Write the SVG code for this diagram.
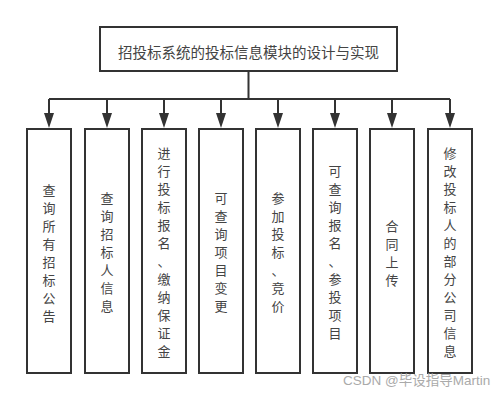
<svg xmlns="http://www.w3.org/2000/svg" width="499" height="402" viewBox="0 0 499 402">
<style>
.box{fill:#fff;stroke:#333;stroke-width:2}
.t{font-family:"Noto Sans CJK SC","Noto Sans",sans-serif;font-size:13px;fill:#444;text-anchor:middle}
.tt{font-size:14.5px}
.ln{fill:none;stroke:#333;stroke-width:2}
.ah{fill:#333}
</style>
<rect width="499" height="402" fill="#fff"/>
<g id="connectors">
<path class="ln" d="M248.5,71 V99 M49,99 H450"/>
<path class="ln" d="M49,99 V113"/><path class="ah" d="M44,113 H54 L49,128 Z"/>
<path class="ln" d="M107,99 V113"/><path class="ah" d="M102,113 H112 L107,128 Z"/>
<path class="ln" d="M164,99 V113"/><path class="ah" d="M159,113 H169 L164,128 Z"/>
<path class="ln" d="M221,99 V113"/><path class="ah" d="M216,113 H226 L221,128 Z"/>
<path class="ln" d="M278,99 V113"/><path class="ah" d="M273,113 H283 L278,128 Z"/>
<path class="ln" d="M335,99 V113"/><path class="ah" d="M330,113 H340 L335,128 Z"/>
<path class="ln" d="M392,99 V113"/><path class="ah" d="M387,113 H397 L392,128 Z"/>
<path class="ln" d="M450,99 V113"/><path class="ah" d="M445,113 H455 L450,128 Z"/>
</g>
<g id="title">
<rect class="box" x="100" y="27" width="297" height="44"/>
<text class="t tt" x="248.5" y="57.5">招投标系统的投标信息模块的设计与实现</text>
</g>
<g id="n1">
<rect class="box" x="27" y="129" width="44" height="244"/>
<text class="t" x="49" y="195"><tspan x="49">查</tspan><tspan x="49" dy="18">询</tspan><tspan x="49" dy="18">所</tspan><tspan x="49" dy="18">有</tspan><tspan x="49" dy="18">招</tspan><tspan x="49" dy="18">标</tspan><tspan x="49" dy="18">公</tspan><tspan x="49" dy="18">告</tspan></text>
</g>
<g id="n2">
<rect class="box" x="85" y="129" width="44" height="244"/>
<text class="t" x="107" y="203"><tspan x="107">查</tspan><tspan x="107" dy="18">询</tspan><tspan x="107" dy="18">招</tspan><tspan x="107" dy="18">标</tspan><tspan x="107" dy="18">人</tspan><tspan x="107" dy="18">信</tspan><tspan x="107" dy="18">息</tspan></text>
</g>
<g id="n3">
<rect class="box" x="142" y="129" width="44" height="244"/>
<text class="t" x="164" y="158"><tspan x="164">进</tspan><tspan x="164" dy="18">行</tspan><tspan x="164" dy="18">投</tspan><tspan x="164" dy="18">标</tspan><tspan x="164" dy="18">报</tspan><tspan x="164" dy="18">名</tspan><tspan x="164" dy="18">、</tspan><tspan x="164" dy="18">缴</tspan><tspan x="164" dy="18">纳</tspan><tspan x="164" dy="18">保</tspan><tspan x="164" dy="18">证</tspan><tspan x="164" dy="18">金</tspan></text>
</g>
<g id="n4">
<rect class="box" x="199" y="129" width="44" height="244"/>
<text class="t" x="221" y="203"><tspan x="221">可</tspan><tspan x="221" dy="18">查</tspan><tspan x="221" dy="18">询</tspan><tspan x="221" dy="18">项</tspan><tspan x="221" dy="18">目</tspan><tspan x="221" dy="18">变</tspan><tspan x="221" dy="18">更</tspan></text>
</g>
<g id="n5">
<rect class="box" x="256" y="129" width="44" height="244"/>
<text class="t" x="278" y="203"><tspan x="278">参</tspan><tspan x="278" dy="18">加</tspan><tspan x="278" dy="18">投</tspan><tspan x="278" dy="18">标</tspan><tspan x="278" dy="18">、</tspan><tspan x="278" dy="18">竞</tspan><tspan x="278" dy="18">价</tspan></text>
</g>
<g id="n6">
<rect class="box" x="313" y="129" width="44" height="244"/>
<text class="t" x="335" y="176"><tspan x="335">可</tspan><tspan x="335" dy="18">查</tspan><tspan x="335" dy="18">询</tspan><tspan x="335" dy="18">报</tspan><tspan x="335" dy="18">名</tspan><tspan x="335" dy="18">、</tspan><tspan x="335" dy="18">参</tspan><tspan x="335" dy="18">投</tspan><tspan x="335" dy="18">项</tspan><tspan x="335" dy="18">目</tspan></text>
</g>
<g id="n7">
<rect class="box" x="370" y="129" width="44" height="244"/>
<text class="t" x="392" y="231"><tspan x="392">合</tspan><tspan x="392" dy="18">同</tspan><tspan x="392" dy="18">上</tspan><tspan x="392" dy="18">传</tspan></text>
</g>
<g id="n8">
<rect class="box" x="428" y="129" width="44" height="244"/>
<text class="t" x="450" y="158"><tspan x="450">修</tspan><tspan x="450" dy="18">改</tspan><tspan x="450" dy="18">投</tspan><tspan x="450" dy="18">标</tspan><tspan x="450" dy="18">人</tspan><tspan x="450" dy="18">的</tspan><tspan x="450" dy="18">部</tspan><tspan x="450" dy="18">分</tspan><tspan x="450" dy="18">公</tspan><tspan x="450" dy="18">司</tspan><tspan x="450" dy="18">信</tspan><tspan x="450" dy="18">息</tspan></text>
</g>
<text x="343" y="385" font-family="'Liberation Sans','Noto Sans CJK SC',sans-serif" font-size="13.5" fill="#aaa">CSDN @毕设指导Martin</text>
</svg>
